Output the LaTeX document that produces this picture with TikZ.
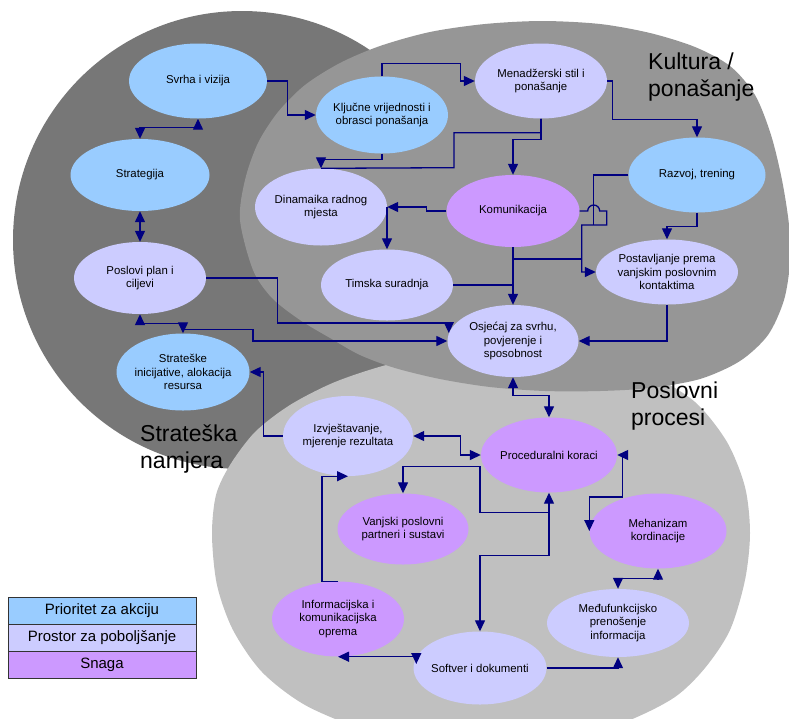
\documentclass[tikz,border=0pt]{standalone}
\usepackage{fontspec}
\setmainfont{Liberation Sans}
\usepackage{tikz}
\usetikzlibrary{calc}
\usetikzlibrary{positioning}
\usetikzlibrary{arrows.meta}
\usetikzlibrary{shapes.geometric}
\definecolor{tamna}{HTML}{777777}
\definecolor{srednja}{HTML}{969696}
\definecolor{svijetla}{HTML}{C0C0C0}
\definecolor{plava}{HTML}{99CCFF}
\definecolor{lila}{HTML}{CCCCFF}
\definecolor{ljubicasta}{HTML}{CC99FF}
\definecolor{veza}{HTML}{000080}
\tikzstyle{every node}=[font=\fontsize{11.4}{13.3}\selectfont]
\tikzstyle{cilj}=[ellipse, inner xsep=-5pt, inner ysep=0pt, minimum width=133pt, minimum height=75pt, align=center]
\tikzstyle{prio}=[cilj, fill=plava]
\tikzstyle{prostor}=[cilj, fill=lila]
\tikzstyle{snaga}=[cilj, fill=ljubicasta]
\tikzstyle{link}=[draw=veza, line width=1.3pt]
\tikzstyle{legenda}=[rectangle, draw=black!80, line width=0.8pt, minimum width=188pt, minimum height=27pt, inner sep=0pt, outer sep=0pt, font=\fontsize{15}{18}\selectfont]
\tikzstyle{naslov}=[anchor=north west, inner sep=0pt, align=left, font=\fontsize{23}{27}\selectfont]

\begin{document}
\begin{tikzpicture}[x=1pt, y=-1pt, >={Triangle[length=11pt,width=10pt]}]
\useasboundingbox (0,0) rectangle (789,718);
\fill[tamna] (242,240) circle (229pt);
\fill[svijetla] plot[smooth cycle] coordinates {(212,535) (216,495) (230,465) (255,432) (290,405) (335,382) (390,364) (450,353) (520,350) (590,356) (650,375) (695,402) (727,442) (745,487) (750,533) (745,580) (730,630) (705,668) (675,697) (630,720) (570,740) (500,748) (430,745) (365,730) (305,705) (262,672) (233,630) (217,585)};
\fill[srednja] plot[smooth cycle] coordinates {(240,220) (245,180) (258,143) (278,112) (305,85) (340,63) (380,46) (430,32) (485,24) (542,21) (600,24) (650,33) (695,47) (730,66) (755,95) (771,135) (782,180) (789,225) (790,262) (784,300) (768,335) (740,361) (700,379) (650,388) (600,391) (545,391) (490,387) (440,379) (395,368) (360,355) (330,338) (300,320) (272,298) (253,270)};

\node[naslov] (kultura) at (648,53) {Kultura /\\ponašanje};
\node[naslov] (poslovni) at (631,382) {Poslovni\\procesi};
\node[naslov] (strateska) at (140,425) {Strateška\\namjera};

\node[prio, minimum width=138pt] (svrha) at (198,81) {Svrha i vizija};
\node[prio, minimum width=139pt, minimum height=72pt] (strat) at (140,175) {Strategija};
\node[prio, minimum width=132pt, minimum height=77pt] (kljuc) at (382,115) {Ključne vrijednosti i\\obrasci ponašanja};
\node[prostor, minimum width=132pt] (mena) at (541,81) {Menadžerski stil i\\ponašanje};
\node[prio, minimum width=137pt] (razvoj) at (697,175) {Razvoj, trening};
\node[prostor, minimum width=132pt, minimum height=77pt] (dina) at (321,207) {Dinamaika radnog\\mjesta};
\node[snaga, minimum height=72pt] (kom) at (513,211) {Komunikacija};
\node[prostor, minimum width=132pt, minimum height=71pt] (timska) at (387,285) {Timska suradnja};
\node[prostor, minimum width=142pt, minimum height=65pt] (post) at (667,272) {Postavljanje prema\\vanjskim poslovnim\\kontaktima};
\node[prostor, minimum width=132pt, minimum height=72pt] (plan) at (140,278) {Poslovi plan i\\ciljevi};
\node[prostor, minimum width=131pt, minimum height=72pt] (osjecaj) at (513,341) {Osjećaj za svrhu,\\povjerenje i\\sposobnost};
\node[prio, minimum height=77pt] (inic) at (183,372) {Strateške\\inicijative, alokacija\\resursa};
\node[prostor, minimum width=130pt, minimum height=80pt] (izvj) at (348,436) {Izvještavanje,\\mjerenje rezultata};
\node[snaga, minimum width=136pt] (proc) at (549,455) {Proceduralni koraci};
\node[snaga, minimum width=131pt, minimum height=71pt] (vanj) at (403,529) {Vanjski poslovni\\partneri i sustavi};
\node[snaga, minimum width=137pt] (meh) at (658,531) {Mehanizam\\kordinacije};
\node[snaga, minimum width=132pt] (info) at (338,619) {Informacijska i\\komunikacijska\\oprema};
\node[prostor, minimum width=142pt, minimum height=68pt] (medj) at (618,623) {Međufunkcijsko\\prenošenje\\informacija};
\node[prostor, minimum height=73pt] (soft) at (480,668) {Softver i dokumenti};

\draw[link,->] (svrha.east) -- ++(20,0) |- (kljuc.west);
\draw[link,<->] (strat.north) -- ++(0,-11) -| (svrha.south);
\draw[link,<->] (strat.south) -- (plan.north);
\draw[link,<->] (plan.south) -- ++(0,9) -| (inic.north);
\draw[link,->] (inic.north) ++(0,-4) -- ++(70,0) |- (osjecaj.west);
\draw[link,->] (plan.east) -- ++(71,0) |- ($(osjecaj.west)+(1.5,-18)$) -- ($(osjecaj.west)+(1.5,-8)$);

\draw[link,->] (kljuc.north) -- ++(0,-13) -| ($(mena.west)+(-14,0)$) -- (mena.west);
\draw[link,->] (kljuc.south) -- ++(0,6) -| (dina.north);
\draw[link] (mena.south) -- ++(0,14) -| ++(-87,35) -- (dina.north);
\draw[link,->] (mena.south) -- ++(0,21) -| (kom.north);
\draw[link,->] (mena.east) -- ++(5,0) |- ($(razvoj.north)+(0,-18)$) -- (razvoj.north);
\draw[link,->] (razvoj.south) -- ++(0,14) -| (post.north);
\draw[link] (razvoj.west) -| ++(-35,50);
\draw[link,->] (kom.east) -- ++(8,0) arc[start angle=180, end angle=0, radius=6pt] -- ++(7,0) |- ++(-25,14) |- (post.west);
\draw[link] (kom.south) |- ($(post.west)+(-14,-13)$);
\draw[link,->] (kom.south) -- (osjecaj.north);
\draw[link] (timska.east) -- (timska.east -| kom.south);
\draw[link,->] (kom.west) -- ++(-20,0) |- (dina.east);
\draw[link,->] (timska.north |- dina.east) -- (timska.north);
\draw[link,->] (post.south) |- (osjecaj.east);

\draw[link,<->] (osjecaj.south) -- ++(0,18) -| (proc.north);
\draw[link,<->] (izvj.east) -- ++(47,0) |- (proc.west);
\draw[link,->] (izvj.west) -- ++(-19,0) |- (inic.east);
\draw[link,<->] (proc.south) -- ++(0,63) -| (soft.north);
\draw[link,->] (proc.south) ++(0,20) -| ($(vanj.north)+(77,-27)$) -| (vanj.north);
\draw[link,<->] (proc.east) -| ($(meh.west)+(33.5,-34)$) -| (meh.west);
\draw[link,<->] (meh.south) -- ++(0,10) -| (medj.north);
\draw[link,->] (soft.east) -| (medj.south);
\draw[link,<->] (info.south) -| ($(soft.west)+(3,-4)$);
\draw[link,->] (info.north) -- ++(-16,0) |- (izvj.south);

\node[legenda, fill=plava] (leg1) at (102,611) {Prioritet za akciju};
\node[legenda, fill=lila, below=0pt of leg1] (leg2) {Prostor za poboljšanje};
\node[legenda, fill=ljubicasta, below=0pt of leg2] (leg3) {Snaga};
\end{tikzpicture}
\end{document}
